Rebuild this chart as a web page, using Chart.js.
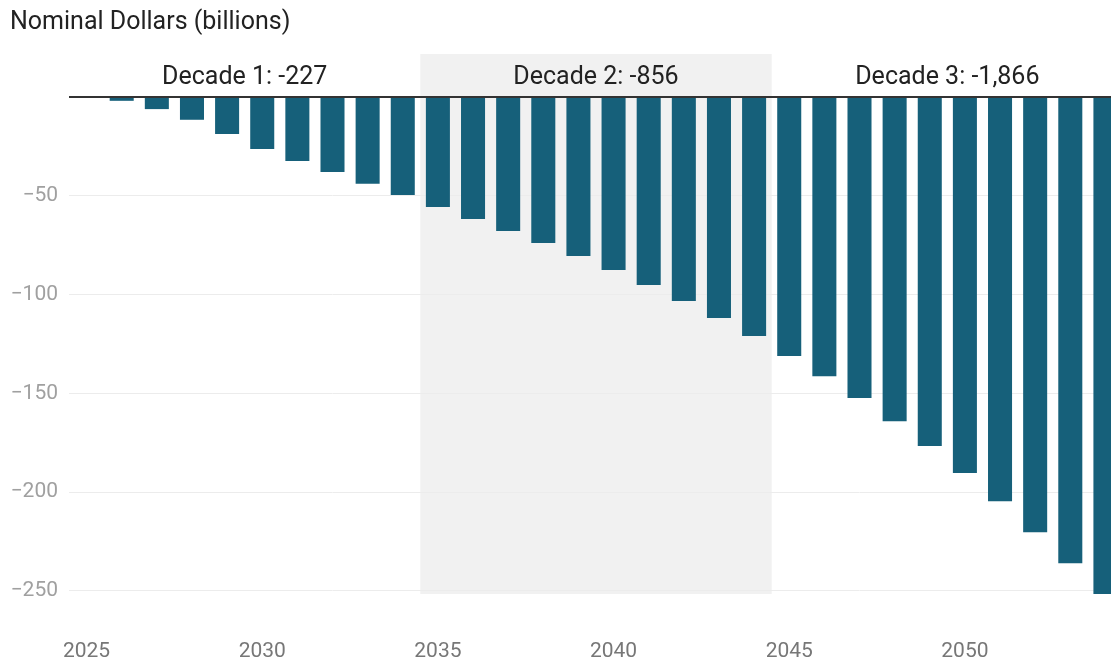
<!DOCTYPE html>
<html>
<head>
<meta charset="utf-8">
<title>Nominal Dollars (billions)</title>
<script src="https://cdn.jsdelivr.net/npm/chart.js@4.4.1/dist/chart.umd.min.js"></script>
<style>
  html, body { margin: 0; padding: 0; background: #fff; overflow: hidden; }
  .chart-wrap { width: 1111px; height: 663px; overflow: hidden; position: relative; }
</style>
</head>
<body>
<div class="chart-wrap">
  <canvas id="chart" width="1123" height="663"></canvas>
</div>
<script>
const years = [2025,2026,2027,2028,2029,2030,2031,2032,2033,2034,
               2035,2036,2037,2038,2039,2040,2041,2042,2043,2044,
               2045,2046,2047,2048,2049,2050,2051,2052,2053,2054];
const values = [0, -1.9, -6.1, -11.5, -18.7, -26.3, -32.4, -38.0, -43.9, -49.6,
                -55.7, -61.8, -67.8, -73.9, -80.5, -87.6, -95.2, -103.3, -111.9, -121.0,
                -131.1, -141.3, -152.4, -164.1, -176.7, -190.4, -204.6, -220.3, -236.0, -251.6];
const yTicks = [-250, -200, -150, -100, -50, 0];
const decadeLabels = ['Decade 1: -227', 'Decade 2: -856', 'Decade 3: -1,866'];
const decadeStart = [2025, 2035, 2045];
const decadeEnd = [2034, 2044, 2054];
const shadedDecade = 1;
const title = 'Nominal Dollars (billions)';

const font = 'Roboto, "Noto Sans", sans-serif';

// band, title, decade labels and the zero line
const decadePlugin = {
  id: 'decades',
  beforeDraw(chart) {
    const {ctx, chartArea, scales} = chart;
    const x = scales.x;
    const half = (x.getPixelForValue(1) - x.getPixelForValue(0)) / 2;
    const l = x.getPixelForValue(years.indexOf(decadeStart[shadedDecade])) - half;
    const r = x.getPixelForValue(years.indexOf(decadeEnd[shadedDecade])) + half;
    ctx.save();
    ctx.fillStyle = '#f1f1f1';
    ctx.fillRect(l, chartArea.top, r - l, chartArea.bottom - chartArea.top);
    ctx.restore();
  },
  afterDatasetsDraw(chart) {
    const {ctx, chartArea, scales} = chart;
    const x = scales.x, y = scales.y;
    const half = (x.getPixelForValue(1) - x.getPixelForValue(0)) / 2;
    ctx.save();
    const y0 = y.getPixelForValue(0);
    ctx.strokeStyle = '#333';
    ctx.lineWidth = 2;
    ctx.beginPath();
    ctx.moveTo(chartArea.left, y0);
    ctx.lineTo(chartArea.right, y0);
    ctx.stroke();

    ctx.fillStyle = '#222';
    ctx.font = '25px ' + font;
    ctx.textAlign = 'center';
    ctx.textBaseline = 'alphabetic';
    decadeLabels.forEach((txt, i) => {
      const l = x.getPixelForValue(years.indexOf(decadeStart[i])) - half;
      const r = x.getPixelForValue(years.indexOf(decadeEnd[i])) + half;
      ctx.fillText(txt, (l + r) / 2, 83.5);
    });

    ctx.font = '25px ' + font;
    ctx.textAlign = 'left';
    ctx.fillText(title, 10, 29);
    ctx.restore();
  }
};

new Chart(document.getElementById('chart').getContext('2d'), {
  type: 'bar',
  data: {
    labels: years,
    datasets: [{
      data: values,
      backgroundColor: '#16607a',
      barPercentage: 0.684,
      categoryPercentage: 1
    }]
  },
  options: {
    responsive: false,
    animation: false,
    layout: { padding: { top: 54, left: 0, right: 0, bottom: 0 } },
    plugins: {
      legend: { display: false },
      tooltip: { enabled: false }
    },
    scales: {
      x: {
        grid: { display: false, drawTicks: false },
        border: { display: false },
        ticks: {
          autoSkip: false,
          maxRotation: 0,
          padding: 45,
          color: '#777',
          font: { family: font, size: 21 },
          callback: function (v, i) { return years[i] % 5 === 0 ? String(years[i]) : ''; }
        },
        afterFit: function (s) {
          s.height = 69;
          s.paddingLeft = 0;
          s.paddingRight = 0;
        }
      },
      y: {
        min: -251.6,
        max: 21.8,
        afterBuildTicks: function (s) { s.ticks = yTicks.map(v => ({value: v})); },
        afterFit: function (s) { s.width = 69; },
        grid: {
          drawTicks: false,
          color: ctx => ctx.tick && ctx.tick.value === 0 ? 'rgba(0,0,0,0)' : '#ececec',
          lineWidth: 1
        },
        border: { display: false },
        ticks: {
          padding: 11,
          color: '#a0a0a0',
          font: { family: font, size: 21 },
          callback: v => v === 0 ? '' : '\u2212' + Math.abs(v)
        }
      }
    }
  },
  plugins: [decadePlugin]
});
</script>
</body>
</html>
